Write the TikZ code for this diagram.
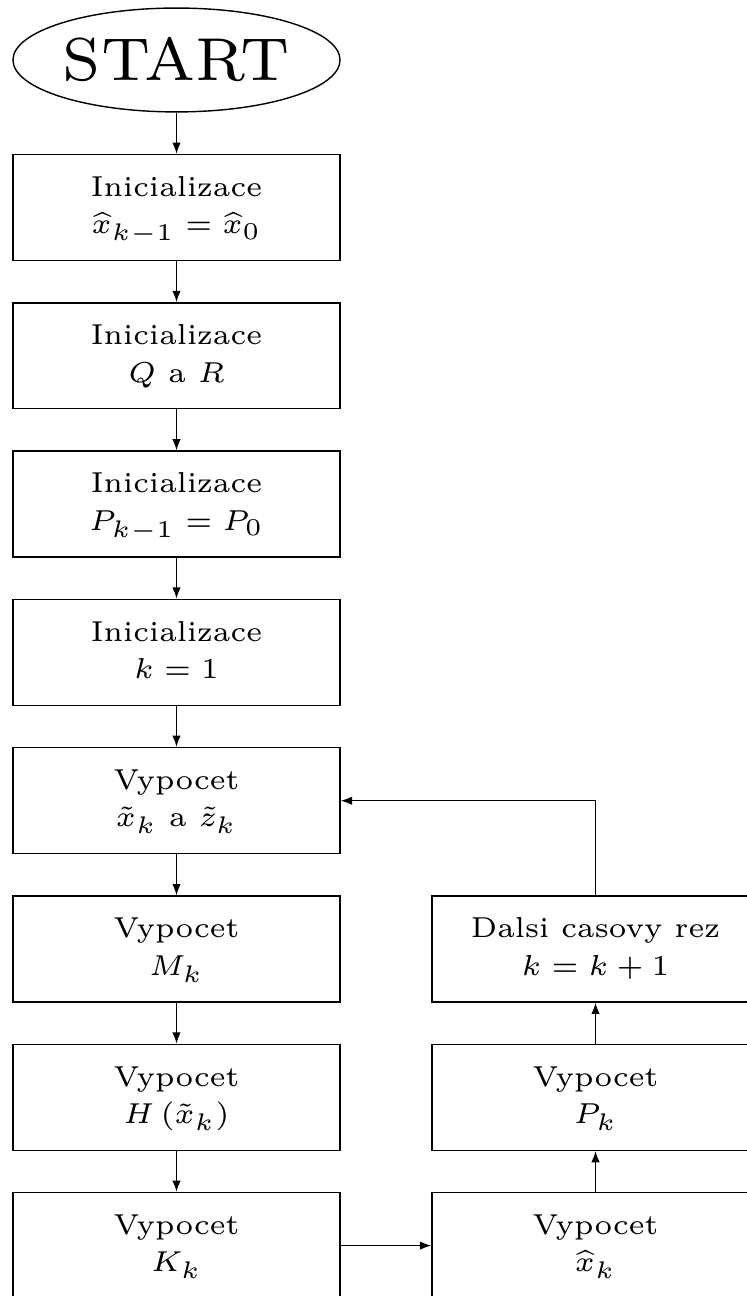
\documentclass[tikz,border=0pt]{standalone}
\usepackage{amsmath}
\usepackage{graphicx}
\usetikzlibrary{shapes.geometric,arrows.meta}
% small optical sizes, enlarged
\newcommand\twoline[2]{\scalebox{1.365}{\fontsize{6}{7.8}\selectfont\begin{tabular}{@{}c@{}}#1\\#2\end{tabular}}}
\font\startfont=cmr7 at 17.2pt
\begin{document}
\begin{tikzpicture}[x=0.284pt,y=-0.284pt,
  box/.style={draw, minimum width=92.9pt, minimum height=30.1pt, inner sep=0pt},
  startnode/.style={draw, ellipse, minimum width=92.9pt, minimum height=29.5pt, inner sep=0pt},
  flow/.style={-{Latex[length=3.2pt,width=2.4pt]}}]
\useasboundingbox (0,0) rectangle (747,1296);
% main column
\node[startnode] (start) at (176.5,60) {\startfont START};
\node[box] (b1) at (176.5,207.5) {\twoline{Inicializace}{$\widehat{x}_{k-1}=\widehat{x}_0$}};
\node[box] (b2) at (176.5,355.8) {\twoline{Inicializace}{$Q$ a $R$}};
\node[box] (b3) at (176.5,504.1) {\twoline{Inicializace}{$P_{k-1}=P_0$}};
\node[box] (b4) at (176.5,652.4) {\twoline{Inicializace}{$k=1$}};
\node[box] (b5) at (176.5,800.7) {\twoline{Vypocet}{$\tilde{x}_k$ a $\tilde{z}_k$}};
\node[box] (b6) at (176.5,949.0) {\twoline{Vypocet}{$M_k$}};
\node[box] (b7) at (176.5,1097.3) {\twoline{Vypocet}{$H\left(\tilde{x}_k\right)$}};
\node[box] (b8) at (176.5,1245.6) {\twoline{Vypocet}{$K_k$}};
% right column
\node[box] (xh) at (595.5,1245.6) {\twoline{Vypocet}{$\widehat{x}_k$}};
\node[box] (pk) at (595.5,1097.3) {\twoline{Vypocet}{$P_k$}};
\node[box] (nx) at (595.5,949.0) {\twoline{Dalsi casovy rez}{$k=k+1$}};
% connectors
\draw[flow] (start) -- (b1);
\draw[flow] (b1) -- (b2);
\draw[flow] (b2) -- (b3);
\draw[flow] (b3) -- (b4);
\draw[flow] (b4) -- (b5);
\draw[flow] (b5) -- (b6);
\draw[flow] (b6) -- (b7);
\draw[flow] (b7) -- (b8);
\draw[flow] (b8) -- (xh);
\draw[flow] (xh) -- (pk);
\draw[flow] (pk) -- (nx);
\draw[flow] (nx.north) |- (b5.east);
\end{tikzpicture}
\end{document}
